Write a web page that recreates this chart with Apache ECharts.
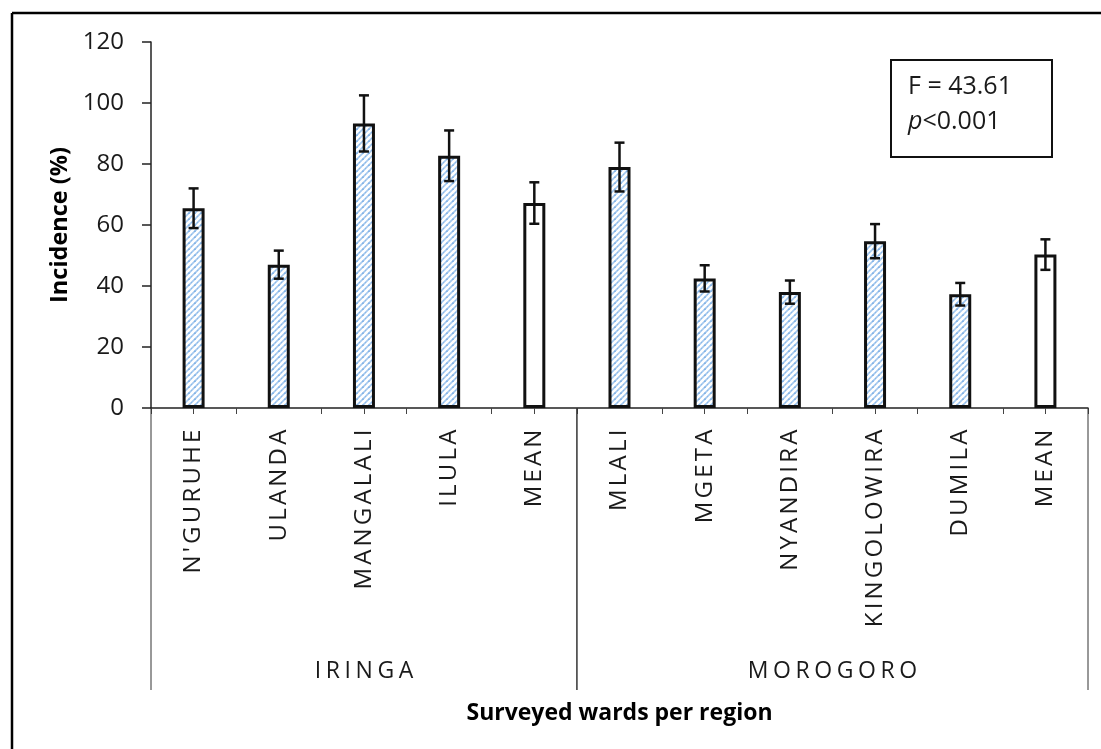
<!DOCTYPE html>
<html>
<head>
<meta charset="utf-8">
<script src="https://cdn.jsdelivr.net/npm/echarts@6/dist/echarts.min.js"></script>
<style>
  html, body { margin: 0; padding: 0; background: #fff; }
  #chart { width: 1101px; height: 749px; }
</style>
</head>
<body>
<div id="chart"></div>
<script>
// Surveyed wards, grouped by region (the last ward of each group is the regional mean)
const wards = ["N'GURUHE", "ULANDA", "MANGALALI", "ILULA", "MEAN",
               "MLALI", "MGETA", "NYANDIRA", "KINGOLOWIRA", "DUMILA", "MEAN"];
// Incidence (%) per ward
const incidence = [65.5, 47, 93.3, 82.7, 67.2, 79, 42.5, 38, 54.7, 37.3, 50.3];
// Error bar half-widths
const errors = [6.5, 4.6, 9.2, 8.3, 6.8, 8, 4.3, 3.8, 5.6, 3.7, 5];
// Regions and the ward index range each one covers
const regions = ["IRINGA", "MOROGORO"];
const regionStart = [0, 5];
const regionEnd = [5, 11];
// Y axis ticks
const yTicks = [0, 20, 40, 60, 80, 100, 120];

const FONT = "'Open Sans', 'Noto Sans', sans-serif";

// Spread the letters of a label out as separate rich-text tokens
function spaced(str, key) {
  return str.split('').map(ch => '{' + key + '|' + ch + '}').join('');
}

// Light blue diagonal hatch used for the ward bars
function hatch() {
  const c = document.createElement('canvas');
  c.width = 6; c.height = 6;
  const g = c.getContext('2d');
  g.fillStyle = '#ffffff';
  g.fillRect(0, 0, 6, 6);
  g.strokeStyle = '#a5c9ef';
  g.lineWidth = 1.7;
  g.beginPath();
  g.moveTo(-1, 7); g.lineTo(7, -1);
  g.moveTo(-1, 1); g.lineTo(1, -1);
  g.moveTo(5, 7); g.lineTo(7, 5);
  g.stroke();
  g.fillStyle = '#5d9bdb';
  g.fillRect(2.4, 2.6, 1.2, 1.2);
  g.fillRect(5.4, -0.4, 1.0, 1.0);
  return c;
}
const hatchPattern = { image: hatch(), repeat: 'repeat' };

const barData = incidence.map((v, i) => ({
  value: v,
  itemStyle: { color: wards[i] === 'MEAN' ? '#ffffff' : hatchPattern }
}));
const errData = incidence.map((v, i) => [i, v - errors[i], v + errors[i]]);
const regionData = regions.map((r, i) => [regionStart[i], regionEnd[i], r]);

const chart = echarts.init(document.getElementById('chart'), null, { renderer: 'canvas' });

chart.setOption({
  animation: false,
  backgroundColor: '#ffffff',
  grid: { left: 151, right: 13, top: 42, bottom: 341 },
  xAxis: [
    {
      type: 'category',
      data: wards,
      axisLine: { lineStyle: { color: '#222', width: 1.5 } },
      axisTick: { show: true, length: 6, lineStyle: { color: '#444', width: 1 } },
      axisLabel: {
        rotate: 90, margin: 20, interval: 0,
        formatter: v => spaced(v, 'c'),
        rich: { c: { fontFamily: FONT, fontSize: 24, color: '#1a1a1a', padding: [0, 1.6] } }
      },
      name: 'Surveyed wards per region',
      nameLocation: 'middle',
      nameGap: 294,
      nameTextStyle: { fontFamily: FONT, fontSize: 23, fontWeight: 'bold', color: '#000' }
    },
    {
      type: 'category',
      data: wards,
      position: 'bottom',
      axisLine: { show: false },
      axisTick: { show: true, alignWithLabel: true, length: 6, lineStyle: { color: '#444', width: 1 } },
      axisLabel: { show: false }
    },
    {
      type: 'value', min: 0, max: wards.length, show: false
    }
  ],
  yAxis: {
    type: 'value',
    min: yTicks[0], max: yTicks[yTicks.length - 1], interval: 20,
    splitLine: { show: false },
    axisLine: { show: true, lineStyle: { color: '#222', width: 1.5 } },
    axisTick: { show: true, length: 9, lineStyle: { color: '#222', width: 1.5 } },
    axisLabel: { margin: 27, fontFamily: FONT, fontSize: 24, color: '#1a1a1a' },
    name: 'Incidence (%)',
    nameLocation: 'middle',
    nameGap: 78,
    nameTextStyle: { fontFamily: FONT, fontSize: 23.5, fontWeight: 'bold', color: '#000' }
  },
  series: [
    {
      type: 'bar',
      data: barData,
      barWidth: 22,
      itemStyle: { borderColor: '#111', borderWidth: 3 }
    },
    {
      type: 'custom',
      data: errData,
      z: 5,
      renderItem: function (params, api) {
        const x = api.value(0);
        const lo = api.coord([x, api.value(1)]);
        const hi = api.coord([x, api.value(2)]);
        const cap = 5;
        const st = { stroke: '#111', lineWidth: 2.5 };
        return {
          type: 'group',
          children: [
            { type: 'line', shape: { x1: lo[0], y1: lo[1], x2: hi[0], y2: hi[1] }, style: st },
            { type: 'line', shape: { x1: lo[0] - cap, y1: lo[1], x2: lo[0] + cap, y2: lo[1] }, style: st },
            { type: 'line', shape: { x1: hi[0] - cap, y1: hi[1], x2: hi[0] + cap, y2: hi[1] }, style: st }
          ]
        };
      }
    },
    {
      // Region separators and region names under the ward labels
      type: 'custom',
      xAxisIndex: 2,
      data: regionData,
      clip: false,
      silent: true,
      renderItem: function (params, api) {
        const a = api.coord([api.value(0), 0]);
        const b = api.coord([api.value(1), 0]);
        const depth = 282;
        const st = { stroke: '#333', lineWidth: 1 };
        return {
          type: 'group',
          children: [
            { type: 'line', shape: { x1: a[0], y1: a[1], x2: a[0], y2: a[1] + depth }, style: st },
            { type: 'line', shape: { x1: b[0], y1: b[1], x2: b[0], y2: b[1] + depth }, style: st },
            {
              type: 'text',
              style: {
                text: spaced(regionData[params.dataIndex][2], 'r'),
                x: (a[0] + b[0]) / 2, y: a[1] + 263,
                align: 'center', verticalAlign: 'middle',
                rich: { r: { fontFamily: FONT, fontSize: 23, fill: '#1a1a1a', padding: [0, 2.3] } }
              }
            }
          ]
        };
      }
    }
  ],
  graphic: [
    // frame edges along the top and left
    { type: 'line', shape: { x1: 12, y1: 13, x2: 1101, y2: 13 }, style: { stroke: '#000', lineWidth: 2.5 } },
    { type: 'line', shape: { x1: 12, y1: 13, x2: 12, y2: 749 }, style: { stroke: '#000', lineWidth: 2.5 } },
    // statistics box
    { type: 'rect', shape: { x: 891, y: 60, width: 161, height: 97 }, style: { fill: '#fff', stroke: '#111', lineWidth: 2 }, z: 10 },
    {
      type: 'text', x: 908, y: 87, z: 11,
      style: { text: 'F = 43.61', font: '25px ' + FONT, fill: '#1a1a1a', verticalAlign: 'middle' }
    },
    {
      type: 'text', x: 908, y: 122, z: 11,
      style: {
        text: '{i|p}{n|<0.001}',
        verticalAlign: 'middle',
        rich: {
          i: { fontStyle: 'italic', fontFamily: FONT, fontSize: 25, fill: '#1a1a1a' },
          n: { fontFamily: FONT, fontSize: 25, fill: '#1a1a1a' }
        }
      }
    }
  ]
});
</script>
</body>
</html>
